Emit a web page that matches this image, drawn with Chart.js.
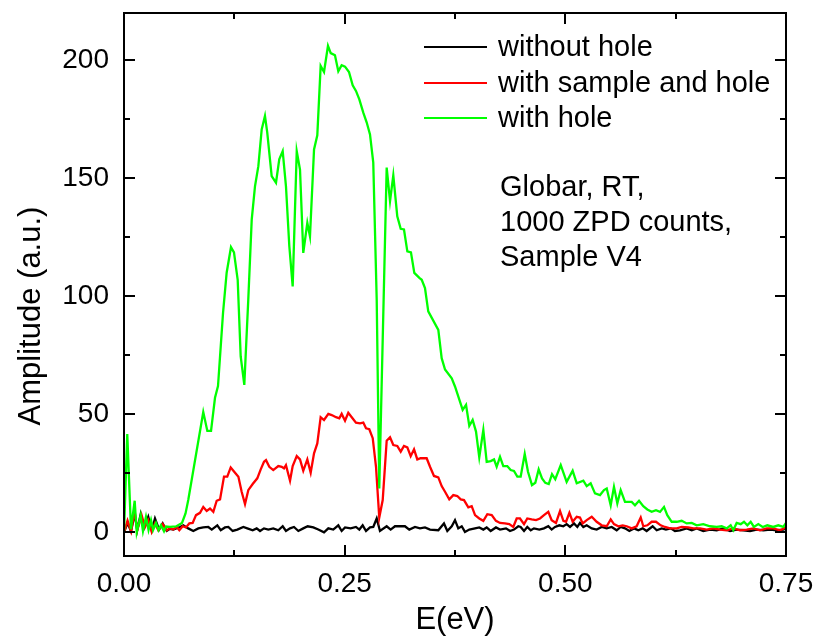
<!DOCTYPE html>
<html lang="en">
<head>
<meta charset="UTF-8">
<title>Amplitude vs E</title>
<script src="https://cdn.jsdelivr.net/npm/chart.js"></script>
<style>
  html, body { margin: 0; padding: 0; background: #fff; }
  #wrap { width: 817px; height: 637px; }
</style>
</head>
<body>
<div id="wrap"><canvas id="myChart" width="817" height="637"></canvas></div>
<script>
// ---- data ----
const eWithout = [0, 0.004, 0.008, 0.012, 0.015, 0.0189, 0.0226, 0.0275, 0.0314, 0.0351,
  0.0398, 0.0438, 0.0484, 0.0521, 0.0559, 0.0634, 0.0672, 0.0728, 0.0785, 0.0842,
  0.0898, 0.0955, 0.0994, 0.1057, 0.1096, 0.1144, 0.1182, 0.1231, 0.1284, 0.1352,
  0.1397, 0.1458, 0.1503, 0.1541, 0.1586, 0.1635, 0.1691, 0.1748, 0.1798, 0.1835,
  0.1881, 0.1926, 0.1975, 0.2031, 0.2081, 0.2145, 0.2201, 0.2266, 0.2315, 0.2371,
  0.2428, 0.2466, 0.2504, 0.2568, 0.2628, 0.2666, 0.2704, 0.2742, 0.2787, 0.2824,
  0.2863, 0.2900, 0.2976, 0.3021, 0.3070, 0.3127, 0.3183, 0.3232, 0.3297, 0.3353,
  0.3410, 0.3467, 0.3561, 0.3625, 0.3663, 0.3713, 0.3750, 0.3787, 0.3826, 0.3863,
  0.3912, 0.3977, 0.4025, 0.4071, 0.4109, 0.4154, 0.4214, 0.4260, 0.4328, 0.4373,
  0.4418, 0.4467, 0.4494, 0.4532, 0.4569, 0.4608, 0.4645, 0.4705, 0.4758, 0.4807,
  0.4845, 0.4883, 0.4932, 0.4977, 0.5015, 0.5053, 0.5098, 0.5136, 0.5166, 0.5204,
  0.5242, 0.5299, 0.5355, 0.5412, 0.5469, 0.5525, 0.5582, 0.5627, 0.5676, 0.5725,
  0.5778, 0.5827, 0.5876, 0.5921, 0.5989, 0.6035, 0.6092, 0.6140, 0.6194, 0.6242,
  0.6299, 0.6375, 0.6432, 0.6488, 0.6563, 0.6639, 0.6715, 0.6790, 0.6866, 0.6941,
  0.7017, 0.7092, 0.7168, 0.7244, 0.7319, 0.7395, 0.7469, 0.75];
const aWithout = [0, 4, 0.5, 8, 1, 7.7, 1.7, 6.6, 0.9, 5.9,
  1.2, 3.8, 0.6, 1.5, 1.2, 2.3, 3, 1.7, 0.6, 1.7,
  2.1, 2.3, 1.2, 3, 0.9, 2.1, 2.3, 0.6, 1.2, 2.3,
  1.7, 0.9, 1.7, 0.6, 1.7, 1.2, 1.7, 0.9, 2.6, 0.6,
  1.7, 2.3, 0.6, 1.7, 2.6, 2.1, 1.2, 0, 1.7, 1.2,
  3, 0.6, 2.1, 1.7, 2.3, 1.2, 3, 0.6, 2.1, 2.3,
  5.9, 0.6, 2.6, 1.2, 2.6, 2.6, 2.6, 1.2, 2.3, 1.7,
  2.1, 1.2, 0.9, 3.8, 0.6, 2.6, 5.2, 1.7, 2.6, 0.2,
  1.2, 1.7, 2.1, 1.2, 2.1, 0.6, 2.1, 1.2, 1.7, 0.6,
  1.2, 2.6, 2.3, 0.6, 2.3, 0.9, 1.7, 1.2, 1.7, 2.6,
  1.2, 2.3, 3, 2.6, 3.5, 2.3, 3.8, 2.3, 4, 2.3,
  3, 1.7, 1.2, 2.3, 1.7, 2.3, 0.9, 2.3, 1.7, 0.6,
  1.7, 0.9, 1.7, 0.6, 2.6, 0.9, 1.7, 1.2, 1.7, 0.6,
  0.9, 1.7, 0.9, 1.7, 0.6, 1.2, 0.9, 1.7, 0.6, 1.2,
  0.9, 0.6, 1.2, 0.9, 1.2, 0.9, 1.2, 1.7];

const eSample = [0, 0.004, 0.008, 0.012, 0.015, 0.0200, 0.0238, 0.0275, 0.0314, 0.0351,
  0.0389, 0.0438, 0.0484, 0.0521, 0.0559, 0.0597, 0.0627, 0.0665, 0.0702, 0.0740,
  0.0778, 0.0816, 0.0861, 0.0898, 0.0937, 0.0974, 0.1012, 0.1050, 0.1088, 0.1133,
  0.1170, 0.1209, 0.1258, 0.1296, 0.1333, 0.1371, 0.1408, 0.1458, 0.1510, 0.1549,
  0.1586, 0.1609, 0.1646, 0.1691, 0.1748, 0.1787, 0.1813, 0.1835, 0.1881, 0.1911,
  0.1957, 0.1994, 0.2031, 0.2077, 0.2115, 0.2153, 0.2190, 0.2228, 0.2266, 0.2315,
  0.2353, 0.2402, 0.2439, 0.2466, 0.2504, 0.2541, 0.2580, 0.2628, 0.2674, 0.2711,
  0.2742, 0.2779, 0.2818, 0.2855, 0.2892, 0.2931, 0.2976, 0.3014, 0.3051, 0.3096,
  0.3135, 0.3172, 0.3210, 0.3248, 0.3286, 0.3323, 0.3361, 0.3429, 0.3467, 0.3512,
  0.3561, 0.3599, 0.3637, 0.3685, 0.3731, 0.3776, 0.3815, 0.3852, 0.3901, 0.3939,
  0.3977, 0.4025, 0.4071, 0.4116, 0.4166, 0.4214, 0.4260, 0.4316, 0.4365, 0.4410,
  0.4449, 0.4486, 0.4532, 0.4569, 0.4619, 0.4668, 0.4713, 0.4758, 0.4807, 0.4845,
  0.4894, 0.4940, 0.4978, 0.5008, 0.5046, 0.5083, 0.5129, 0.5166, 0.5197, 0.5242,
  0.5299, 0.5355, 0.5412, 0.5469, 0.5514, 0.5551, 0.5600, 0.5650, 0.5695, 0.5752,
  0.5808, 0.5854, 0.5883, 0.5929, 0.5978, 0.6027, 0.6080, 0.6129, 0.6186, 0.6262,
  0.6318, 0.6393, 0.6450, 0.6526, 0.6601, 0.6677, 0.6752, 0.6828, 0.6903, 0.6979,
  0.7055, 0.7130, 0.7205, 0.7281, 0.7356, 0.7432, 0.75];
const aSample = [0, 5, 0.5, 9, 1, 7.2, 2.3, 5.2, 0.2, 3.8,
  0.9, 3.5, 0.9, 1.7, 1.2, 2.3, 0.9, 2.6, 2.1, 3.8,
  4, 7.3, 8.3, 10.8, 9.1, 10.1, 8.7, 13.4, 14, 23.6,
  23.6, 27.5, 25.3, 23.6, 17.2, 12, 17.9, 20.5, 22.9, 26.7,
  29.9, 30.6, 27.8, 26.4, 28.1, 27.8, 27.1, 28.5, 21.9, 28.1,
  32.3, 30.9, 26.1, 30.9, 25.3, 33.5, 37.7, 48.8, 47.6, 50.2,
  49.7, 48.8, 48.3, 50.2, 47.3, 50.7, 48.8, 46.5, 46.2, 46.5,
  44.1, 43.7, 39.9, 27.8, 6.3, 13.7, 38.8, 40.3, 37, 36.6,
  34.2, 36.6, 36, 32.3, 35.2, 30.9, 31.4, 31.4, 27.8, 23.9,
  23.3, 19.6, 17.2, 14, 15.8, 15.4, 14, 13.7, 10.6, 11.1,
  7.3, 5.9, 4.9, 7.7, 7.3, 4.9, 4, 3.8, 3.5, 2.3,
  5.9, 5.9, 3.5, 5.9, 5.5, 5.2, 5.9, 7.3, 8.7, 5.2,
  4, 9, 4.9, 4.5, 8.3, 4.5, 6.6, 6.3, 3.8, 5.2,
  6.6, 4.5, 3, 2.6, 5.5, 3.5, 2.6, 3, 2.6, 1.7,
  2.6, 6.3, 2.6, 3, 4.5, 4.5, 3, 2.3, 1.7, 1.7,
  2.3, 2.1, 1.7, 1.7, 1.2, 1.7, 1.2, 0.9, 1.7, 0.9,
  1.2, 1.7, 0.9, 1.7, 1.7, 0.9, 2.1];

const eHole = [0, 0.0037, 0.0079, 0.0121, 0.0144, 0.0189, 0.0215, 0.0249, 0.0278, 0.0306,
  0.0329, 0.0363, 0.0391, 0.0419, 0.0453, 0.0476, 0.0521, 0.0589, 0.0657, 0.0697,
  0.0728, 0.0898, 0.0944, 0.0986, 0.1031, 0.1065, 0.1122, 0.1163, 0.1212, 0.1246,
  0.1288, 0.1322, 0.1363, 0.1408, 0.1447, 0.1484, 0.1522, 0.1560, 0.1597, 0.1623,
  0.1673, 0.1722, 0.1759, 0.1798, 0.1835, 0.1873, 0.1911, 0.1957, 0.1994, 0.2031,
  0.2077, 0.2107, 0.2153, 0.2190, 0.2228, 0.2266, 0.2311, 0.2342, 0.2390, 0.2428,
  0.2466, 0.2504, 0.2549, 0.2591, 0.2628, 0.2666, 0.2711, 0.2750, 0.2787, 0.2824,
  0.2863, 0.2892, 0.2976, 0.3014, 0.3051, 0.3096, 0.3135, 0.3172, 0.3210, 0.3251,
  0.3289, 0.3346, 0.3373, 0.3410, 0.3447, 0.3561, 0.3599, 0.3637, 0.3713, 0.3750,
  0.3837, 0.3875, 0.3912, 0.3950, 0.3988, 0.4025, 0.4071, 0.4109, 0.4154, 0.4192,
  0.4222, 0.4260, 0.4297, 0.4342, 0.4381, 0.4418, 0.4456, 0.4494, 0.4540, 0.4577,
  0.4622, 0.4660, 0.4698, 0.4736, 0.4773, 0.4812, 0.4849, 0.4886, 0.4948, 0.5015,
  0.5083, 0.5129, 0.5204, 0.5242, 0.5287, 0.5336, 0.5393, 0.5438, 0.5469, 0.5514,
  0.5551, 0.5589, 0.5627, 0.5676, 0.5752, 0.5789, 0.5835, 0.5883, 0.5929, 0.5978,
  0.6027, 0.6073, 0.6118, 0.6155, 0.6205, 0.6262, 0.6318, 0.6375, 0.6432, 0.6488,
  0.6563, 0.6639, 0.6715, 0.6771, 0.6828, 0.6873, 0.6903, 0.6941, 0.6987, 0.7024,
  0.7062, 0.7100, 0.7137, 0.7186, 0.7236, 0.7288, 0.7356, 0.7413, 0.7469, 0.75];
const aHole = [0, 41.7, 1.3, 13.4, 0, 7.3, 0.5, 6.6, 1, 5.2,
  1, 4, 1, 3, 0.5, 2.5, 2.3, 2.5, 4, 8,
  13.7, 51, 43, 43, 57, 62, 93, 110, 120.8, 118.6,
  107, 74.5, 62.5, 98.6, 132.5, 146.6, 155.1, 170.7, 176.4, 169.3,
  150.9, 148.1, 158, 161.5, 146.6, 121.2, 104.2, 161.5, 153.7, 118.4,
  131.1, 125.4, 162.2, 168.2, 197.6, 195, 206.1, 203, 202.1, 195.3,
  197.9, 197.3, 195, 189.4, 187, 183.4, 177.8, 173.6, 168.6, 156.6,
  98.5, 18.6, 154.5, 140.3, 151.2, 133.9, 128.6, 128.3, 119, 118.6,
  109.9, 107.8, 107, 103.5, 93.6, 85.8, 73.8, 69, 65.3, 61.8,
  51.9, 54, 45.1, 47.6, 42.7, 31.8, 43.4, 29.9, 30.2, 30.9,
  27.8, 32, 28.1, 28.1, 26.4, 26, 23.6, 23.6, 33.2, 25.7,
  20, 21, 26.7, 22.9, 21, 20.5, 24.7, 22.5, 28.5, 21.4,
  26.1, 20.8, 21.9, 19.6, 20.8, 16.5, 15.8, 17.9, 18.6, 11.5,
  19.3, 12.3, 17.9, 12.9, 12.9, 11.5, 13.4, 11.1, 9.7, 8.7,
  9.4, 8.7, 10.8, 7.3, 4.5, 4.5, 4.9, 3.8, 4, 3,
  3.5, 2.6, 2.3, 2.6, 1.7, 3, 0.9, 4, 3.5, 4.5,
  3, 4.5, 2.3, 3.5, 2.3, 3, 2.3, 3, 2.3, 4];

const seriesNames = ['without hole', 'with sample and hole', 'with hole'];
const seriesColors = ['#000000', '#ff0000', '#00ff00'];
const noteLines = ['Globar, RT,', '1000 ZPD counts,', 'Sample V4'];

const xMajor = [0, 0.25, 0.5, 0.75];
const xMinor = [0.125, 0.375, 0.625];
const yMajor = [0, 50, 100, 150, 200];
const yMinor = [25, 75, 125, 175];

const FONT = '"Liberation Sans", Arial, sans-serif';

function toPoints(xs, ys) {
  return xs.map(function (x, i) { return { x: x, y: ys[i] }; });
}

// frame, inward ticks, legend, note and axis titles
const framePlugin = {
  id: 'frame',
  afterDraw(chart) {
    const ctx = chart.ctx;
    const ca = chart.chartArea;
    const xs = chart.scales.x, ys = chart.scales.y;
    ctx.save();
    ctx.strokeStyle = '#000';
    ctx.lineWidth = 2;
    ctx.strokeRect(ca.left, ca.top, ca.right - ca.left, ca.bottom - ca.top);

    function xTick(v, len) {
      const p = Math.round(xs.getPixelForValue(v));
      ctx.beginPath();
      ctx.moveTo(p, ca.bottom); ctx.lineTo(p, ca.bottom - len);
      ctx.moveTo(p, ca.top); ctx.lineTo(p, ca.top + len);
      ctx.stroke();
    }
    function yTick(v, len) {
      const p = Math.round(ys.getPixelForValue(v));
      ctx.beginPath();
      ctx.moveTo(ca.left, p); ctx.lineTo(ca.left + len, p);
      ctx.moveTo(ca.right, p); ctx.lineTo(ca.right - len, p);
      ctx.stroke();
    }
    xMajor.forEach(v => xTick(v, 11));
    xMinor.forEach(v => xTick(v, 6));
    yMajor.forEach(v => yTick(v, 11));
    yMinor.forEach(v => yTick(v, 6));

    // legend
    ctx.font = '29px ' + FONT;
    ctx.textBaseline = 'middle';
    ctx.textAlign = 'left';
    const legY = [47, 83, 118];
    seriesNames.forEach(function (name, i) {
      ctx.strokeStyle = seriesColors[i];
      ctx.lineWidth = 2;
      ctx.beginPath();
      ctx.moveTo(424, legY[i]); ctx.lineTo(487, legY[i]);
      ctx.stroke();
      ctx.fillStyle = '#000';
      ctx.fillText(name, 498, legY[i] + 1);
    });

    // note
    noteLines.forEach(function (t, i) {
      ctx.fillText(t, 500, 188 + i * 35);
    });

    // axis titles
    ctx.font = '31px ' + FONT;
    ctx.textAlign = 'center';
    ctx.fillText('E(eV)', (ca.left + ca.right) / 2, 620);
    ctx.translate(31, 316);
    ctx.rotate(-Math.PI / 2);
    ctx.fillText('Amplitude (a.u.)', 0, 0);
    ctx.restore();
  }
};

const dados = {
  datasets: [
    { label: seriesNames[0], data: toPoints(eWithout, aWithout), borderColor: seriesColors[0], order: 2 },
    { label: seriesNames[1], data: toPoints(eSample, aSample), borderColor: seriesColors[1], order: 1 },
    { label: seriesNames[2], data: toPoints(eHole, aHole), borderColor: seriesColors[2], order: 0 }
  ]
};

const config = {
  type: 'line',
  data: dados,
  options: {
    responsive: false,
    animation: false,
    events: [],
    layout: { padding: { top: 13, right: 31, left: 0, bottom: 0 } },
    elements: {
      line: { borderWidth: 2.3, tension: 0, fill: false },
      point: { radius: 0 }
    },
    plugins: { legend: { display: false }, tooltip: { enabled: false } },
    scales: {
      x: {
        type: 'linear',
        min: 0, max: 0.75,
        grid: { display: false, drawTicks: false },
        border: { display: false },
        afterBuildTicks: s => { s.ticks = xMajor.map(v => ({ value: v })); },
        afterFit: s => { s.height = 81; s.paddingLeft = 0; s.paddingRight = 0; },
        ticks: {
          padding: 11,
          color: '#000',
          font: { family: FONT, size: 28 },
          callback: v => v.toFixed(2),
          maxRotation: 0
        }
      },
      y: {
        type: 'linear',
        min: -10, max: 220,
        grid: { display: false, drawTicks: false },
        border: { display: false },
        afterBuildTicks: s => { s.ticks = yMajor.map(v => ({ value: v })); },
        afterFit: s => { s.width = 124; s.paddingTop = 0; s.paddingBottom = 0; },
        ticks: {
          padding: 15,
          color: '#000',
          font: { family: FONT, size: 28 },
          callback: v => String(v)
        }
      }
    }
  },
  plugins: [framePlugin]
};

let myChart = new Chart(document.getElementById('myChart'), config);
</script>
</body>
</html>
